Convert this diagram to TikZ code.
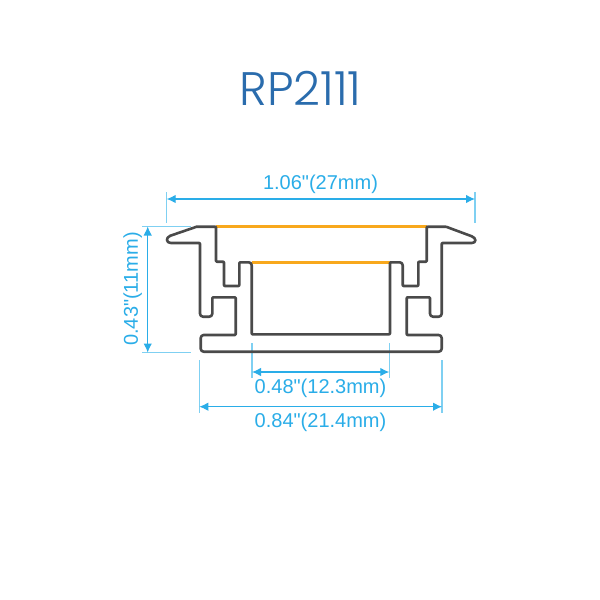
\documentclass[tikz,border=0pt]{standalone}
\usepackage{fontspec}
\setmainfont{Liberation Sans}
\newfontfamily\dimfont{Liberation Sans}
\newfontfamily\titlefont{Poppins Light}
\usetikzlibrary{arrows.meta}
\definecolor{dimblue}{HTML}{2AADE8}
\definecolor{lightblue}{HTML}{7FD0F2}
\definecolor{titleblue}{HTML}{2A6CAD}
\definecolor{profile}{HTML}{4A4A4A}
\definecolor{ledorange}{HTML}{F8A81C}
\tikzset{
  dimarrow/.style={draw=dimblue,line width=1.1pt,{Latex[length=9pt,width=8.5pt]}-{Latex[length=9pt,width=8.5pt]}},
  extline/.style={draw=lightblue,line width=1.2pt},
  dimlabel/.style={text=dimblue,font=\dimfont\fontsize{20}{22}\selectfont,inner sep=0pt},
  outline/.style={draw=profile,line width=2.6pt,line join=round,rounded corners=0.8pt},
  ledline/.style={draw=ledorange,line width=2.6pt},
}
\begin{document}
\begin{tikzpicture}[x=1pt,y=-1pt]
\useasboundingbox[fill=white] (0,0) rectangle (600,600);
\node[text=titleblue,inner sep=0pt,font=\titlefont\fontsize{47}{50}\selectfont] (title) at (300.5,88) {RP2111};
% coordinates
\coordinate (t1a) at (166.7,192); \coordinate (t1b) at (166.7,223);
\coordinate (t2a) at (475,192); \coordinate (t2b) at (475,223);
\coordinate (ta) at (166.7,199); \coordinate (tb) at (475,199);
\coordinate (l1a) at (142,226.5); \coordinate (l1b) at (191,226.5);
\coordinate (l2a) at (142,352.5); \coordinate (l2b) at (191,352.5);
\coordinate (la) at (147.7,226.5); \coordinate (lb) at (147.7,352.5);
\coordinate (m1a) at (252,343.3); \coordinate (m1b) at (252,378);
\coordinate (m2a) at (389.3,343.3); \coordinate (m2b) at (389.3,378);
\coordinate (ma) at (252,372); \coordinate (mb) at (389.3,372);
\coordinate (b1a) at (199.3,360); \coordinate (b1b) at (199.3,413);
\coordinate (b2a) at (442,360); \coordinate (b2b) at (442,413);
\coordinate (ba) at (199.3,406.7); \coordinate (bb) at (442,406.7);
\coordinate (o1a) at (216,226.7); \coordinate (o1b) at (426.7,226.7);
\coordinate (o2a) at (251.7,262.3); \coordinate (o2b) at (390,262.3);
% extension lines
\draw[extline] (t1a) -- (t1b);
\draw[extline] (t2a) -- (t2b);
\draw[extline] (l1a) -- (l1b);
\draw[extline] (l2a) -- (l2b);
\draw[extline] (m1a) -- (m1b);
\draw[extline] (m2a) -- (m2b);
\draw[extline] (b1a) -- (b1b);
\draw[extline] (b2a) -- (b2b);
% dimension arrows
\draw[dimarrow] (ta) -- (tb);
\draw[dimarrow] (la) -- (lb);
\draw[dimarrow] (ma) -- (mb);
\draw[dimarrow] (ba) -- (bb);
% labels
\node[dimlabel] (lt) at (320.5,184.2) {1.06"(27mm)};
\node[dimlabel,rotate=90] (ll) at (132.8,289) {0.43"(11mm)};
\node[dimlabel] (lm) at (320.5,388) {0.48"(12.3mm)};
\node[dimlabel] (lb2) at (320.5,422.7) {0.84"(21.4mm)};
% LED lines
\draw[ledline] (o1a) -- (o1b);
\draw[ledline] (o2a) -- (o2b);
% profile
\draw[outline]
  (196.7,226.7) -- (216,226.7) -- (216,261.7) -- (224,261.7) -- (224,286) -- (239.3,286)
  -- (239.3,262.3) [rounded corners=3pt] -- (251.7,262.3) [rounded corners=0.8pt] -- (251.7,334.3) -- (390,334.3)
  -- (390,262.3) [rounded corners=3pt] -- (402.7,262.3) [rounded corners=0.8pt] -- (402.7,286) -- (418.3,286)
  -- (418.3,261.7) -- (426.7,261.7) -- (426.7,226.7) -- (446,226.7)
  -- (471,236) .. controls (476.5,238) and (476.5,243) .. (471,243) -- (441.7,243)
  -- (441.7,310) [rounded corners=3pt] -- (441.7,316.7) -- (430,316.7) [rounded corners=0.8pt]
  -- (430,297.3) -- (406.7,297.3) -- (406.7,335) [rounded corners=3pt] -- (441.7,335) -- (441.7,351.7)
  -- (200.7,351.7) -- (200.7,335) [rounded corners=0.8pt] -- (235.7,335) -- (235.7,297.3) -- (212.3,297.3)
  [rounded corners=3pt] -- (212.3,316.7) -- (200,316.7) [rounded corners=0.8pt] -- (200,243)
  -- (171.7,243) .. controls (166,243) and (165.5,237.5) .. (171,235.5) -- (196.7,226.7);
\end{tikzpicture}
\end{document}
